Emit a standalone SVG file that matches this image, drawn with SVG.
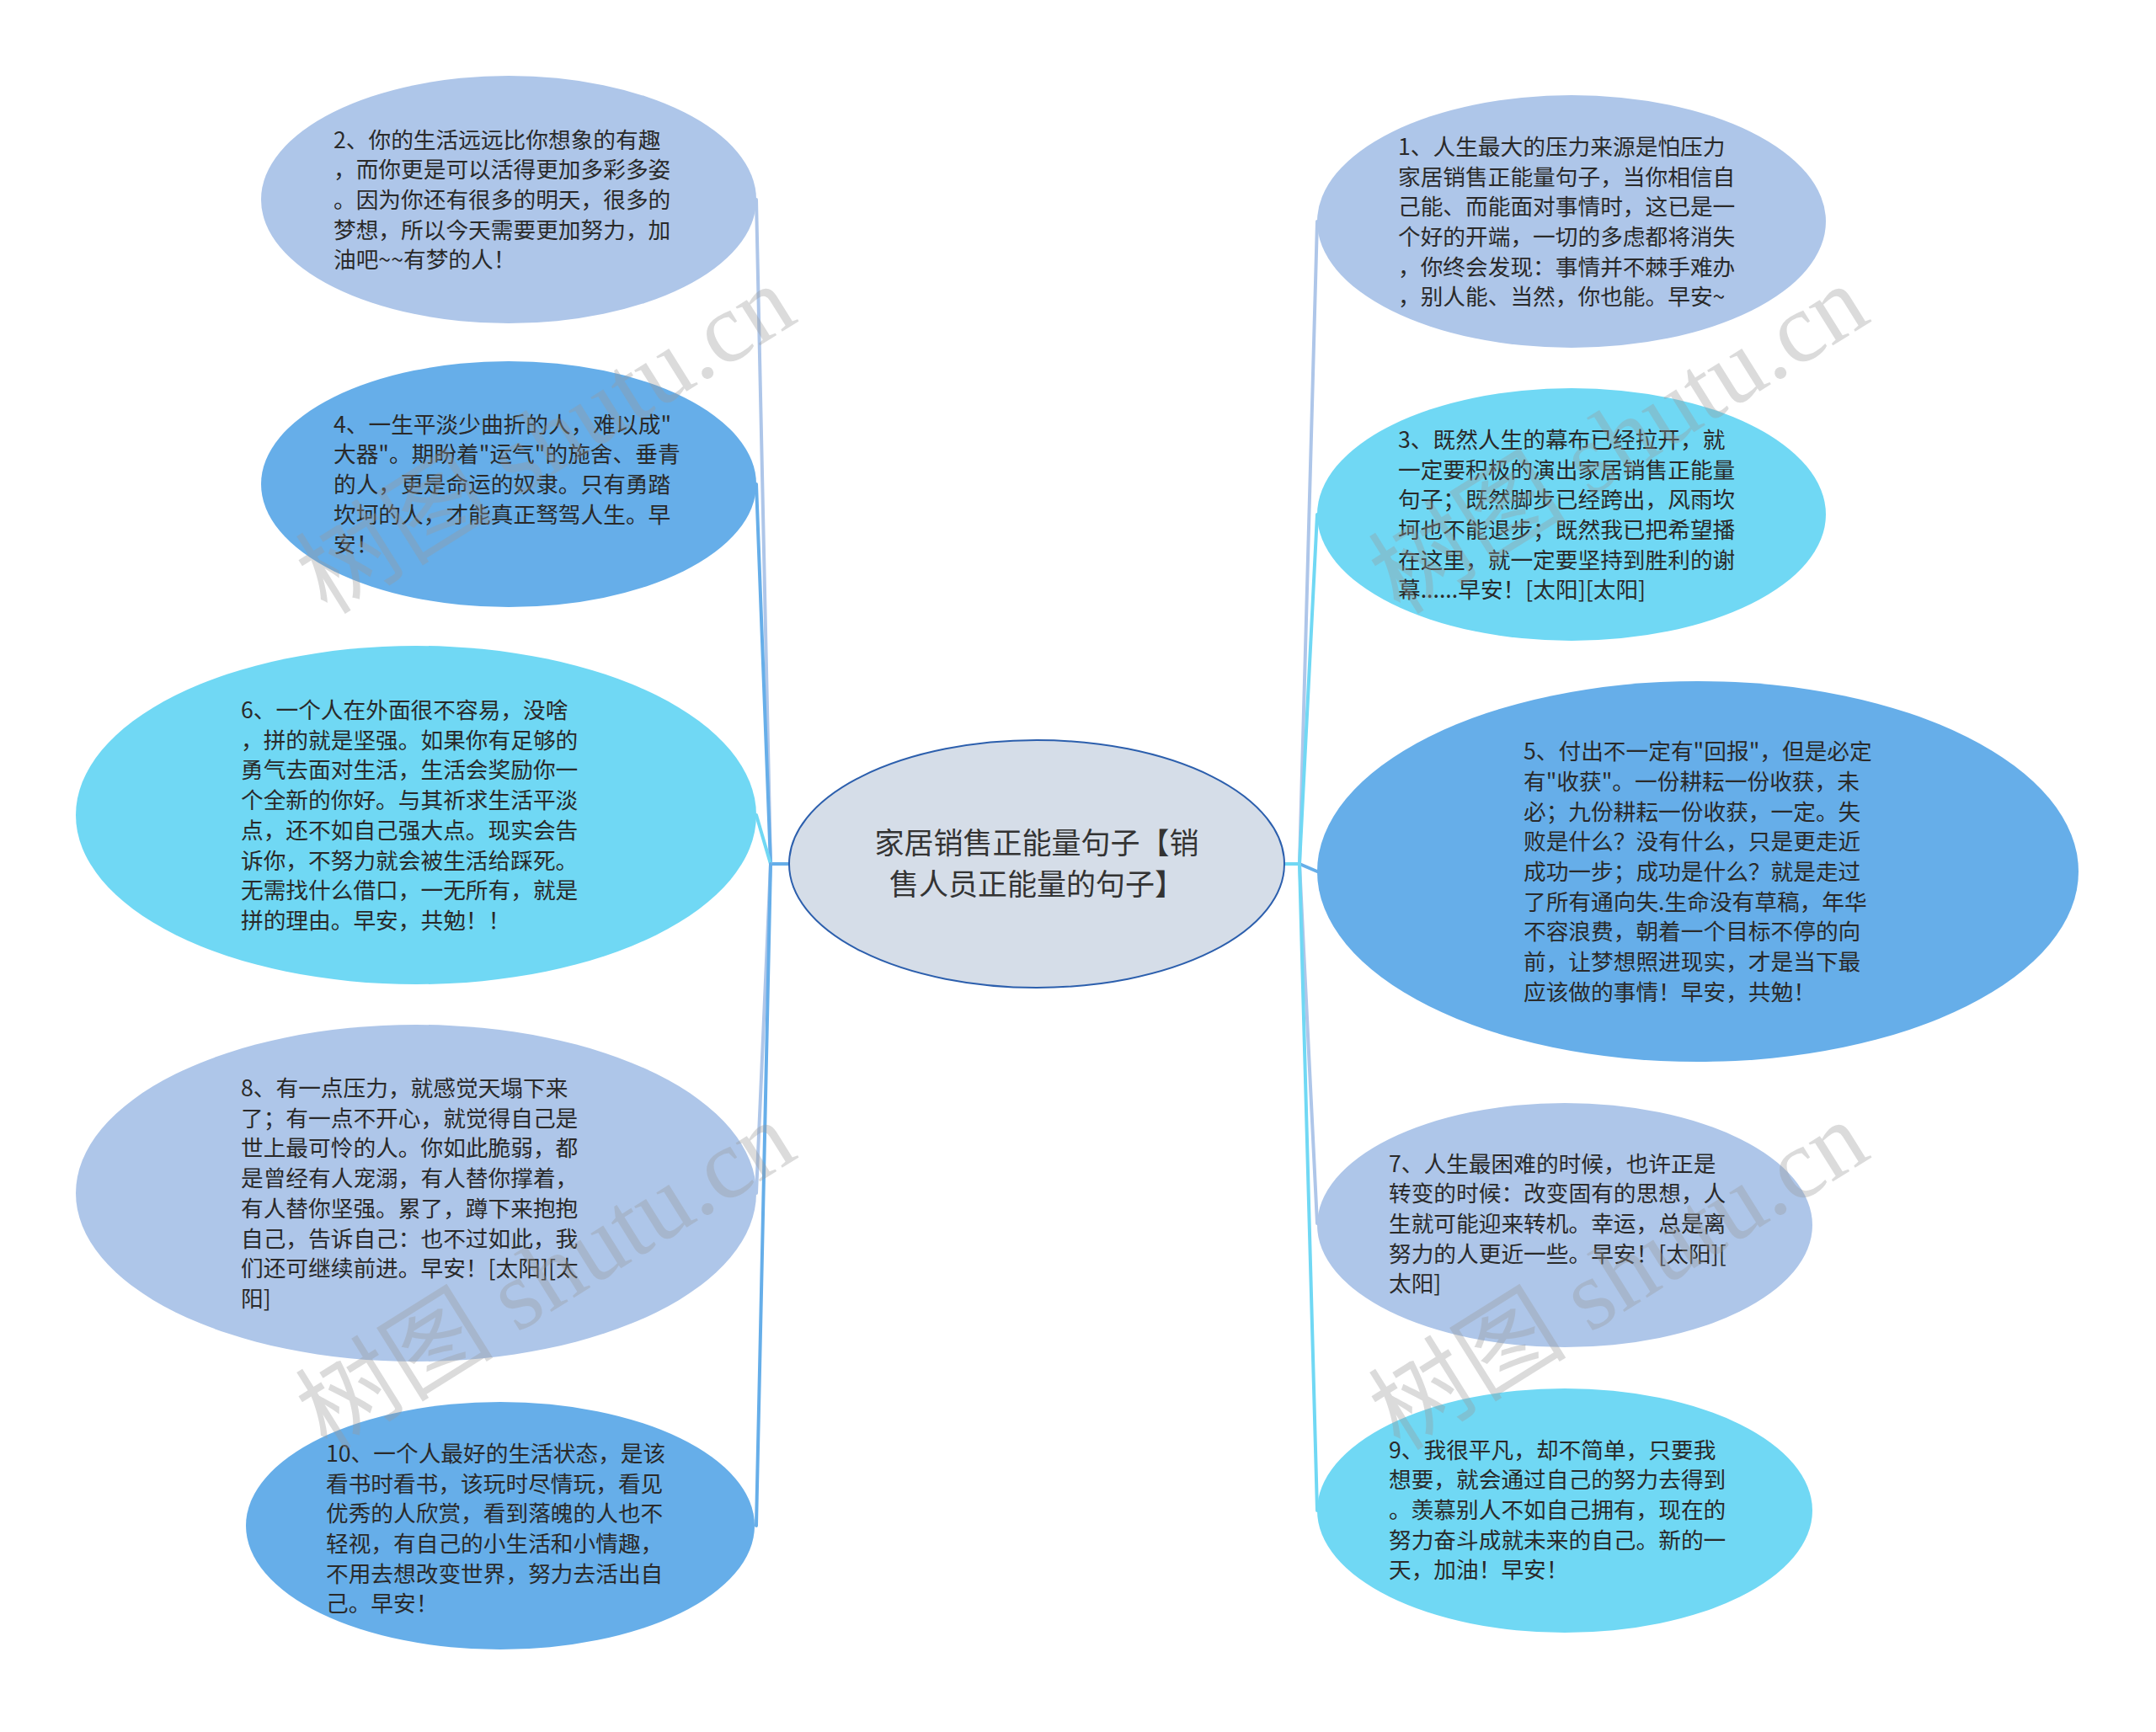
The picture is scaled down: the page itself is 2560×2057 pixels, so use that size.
<svg xmlns="http://www.w3.org/2000/svg" width="2560" height="2057" viewBox="0 0 2560 2057">
<style>
.bg{fill:#ffffff}
.c1{fill:#aec6e9}
.c2{fill:#66aee9}
.c3{fill:#70d8f4}
.l1{stroke:#aec6e9}
.l2{stroke:#66aee9}
.l3{stroke:#70d8f4}
.conn line{stroke-width:4;stroke-linecap:round;fill:none}
.t{font-family:"Noto Sans CJK SC","Noto Sans",sans-serif;font-size:26.7px;fill:#2a2a2a}
.tc{font-family:"Noto Sans CJK SC","Noto Sans",sans-serif;font-size:35px;fill:#333333;text-anchor:middle}
.wm{font-family:"Liberation Serif","Noto Sans CJK SC",serif;font-size:118px;fill:#9a9a9a;opacity:0.35}
</style>
<rect class="bg" x="0" y="0" width="2560" height="2057"/>
<g id="connectors" class="conn">
  <line class="l2" x1="937" y1="1026" x2="915" y2="1026"/>
  <line class="l1" x1="915" y1="1026" x2="898" y2="237"/>
  <line class="l2" x1="915" y1="1026" x2="898" y2="575"/>
  <line class="l3" x1="915" y1="1026" x2="898" y2="968"/>
  <line class="l1" x1="915" y1="1026" x2="898" y2="1417"/>
  <line class="l2" x1="915" y1="1026" x2="898" y2="1812"/>
  <line class="l3" x1="1525" y1="1026" x2="1543" y2="1026"/>
  <line class="l1" x1="1543" y1="1026" x2="1564" y2="263"/>
  <line class="l3" x1="1543" y1="1026" x2="1564" y2="611"/>
  <line class="l2" x1="1543" y1="1026" x2="1564" y2="1035"/>
  <line class="l1" x1="1543" y1="1026" x2="1564" y2="1453"/>
  <line class="l3" x1="1543" y1="1026" x2="1564" y2="1794"/>
</g>
<g id="center">
  <ellipse cx="1231" cy="1026" rx="294" ry="147" fill="#d5dde8" stroke="#2c5fad" stroke-width="2"/>
  <text class="tc"><tspan x="1231" y="1014">家居销售正能量句子【销</tspan><tspan x="1231" y="1063">售人员正能量的句子】</tspan></text>
</g>
<g id="n2">
  <ellipse class="c1" cx="604" cy="237" rx="294" ry="147"/>
  <text class="t" x="396" y="175.6"><tspan x="396">2、你的生活远远比你想象的有趣</tspan><tspan x="396" dy="35.7">，而你更是可以活得更加多彩多姿</tspan><tspan x="396" dy="35.7">。因为你还有很多的明天，很多的</tspan><tspan x="396" dy="35.7">梦想，所以今天需要更加努力，加</tspan><tspan x="396" dy="35.7">油吧~~有梦的人！</tspan></text>
</g>
<g id="n4">
  <ellipse class="c2" cx="604" cy="575" rx="294" ry="146"/>
  <text class="t" x="396" y="513.6"><tspan x="396">4、一生平淡少曲折的人，难以成"</tspan><tspan x="396" dy="35.7">大器"。期盼着"运气"的施舍、垂青</tspan><tspan x="396" dy="35.7">的人，更是命运的奴隶。只有勇踏</tspan><tspan x="396" dy="35.7">坎坷的人，才能真正驽驾人生。早</tspan><tspan x="396" dy="35.7">安！</tspan></text>
</g>
<g id="n6">
  <ellipse class="c3" cx="494" cy="968" rx="404" ry="201"/>
  <text class="t" x="286" y="853"><tspan x="286">6、一个人在外面很不容易，没啥</tspan><tspan x="286" dy="35.7">，拼的就是坚强。如果你有足够的</tspan><tspan x="286" dy="35.7">勇气去面对生活，生活会奖励你一</tspan><tspan x="286" dy="35.7">个全新的你好。与其祈求生活平淡</tspan><tspan x="286" dy="35.7">点，还不如自己强大点。现实会告</tspan><tspan x="286" dy="35.7">诉你，不努力就会被生活给踩死。</tspan><tspan x="286" dy="35.7">无需找什么借口，一无所有，就是</tspan><tspan x="286" dy="35.7">拼的理由。早安，共勉！！</tspan></text>
</g>
<g id="n8">
  <ellipse class="c1" cx="494" cy="1417" rx="404" ry="200"/>
  <text class="t" x="286" y="1302"><tspan x="286">8、有一点压力，就感觉天塌下来</tspan><tspan x="286" dy="35.7">了；有一点不开心，就觉得自己是</tspan><tspan x="286" dy="35.7">世上最可怜的人。你如此脆弱，都</tspan><tspan x="286" dy="35.7">是曾经有人宠溺，有人替你撑着，</tspan><tspan x="286" dy="35.7">有人替你坚强。累了，蹲下来抱抱</tspan><tspan x="286" dy="35.7">自己，告诉自己：也不过如此，我</tspan><tspan x="286" dy="35.7">们还可继续前进。早安！[太阳][太</tspan><tspan x="286" dy="35.7">阳]</tspan></text>
</g>
<g id="n10">
  <ellipse class="c2" cx="594" cy="1812" rx="302" ry="147"/>
  <text class="t" x="387" y="1735.8"><tspan x="387">10、一个人最好的生活状态，是该</tspan><tspan x="387" dy="35.7">看书时看书，该玩时尽情玩，看见</tspan><tspan x="387" dy="35.7">优秀的人欣赏，看到落魄的人也不</tspan><tspan x="387" dy="35.7">轻视，有自己的小生活和小情趣，</tspan><tspan x="387" dy="35.7">不用去想改变世界，努力去活出自</tspan><tspan x="387" dy="35.7">己。早安！</tspan></text>
</g>
<g id="n1">
  <ellipse class="c1" cx="1866" cy="263" rx="302" ry="150"/>
  <text class="t" x="1660" y="183.8"><tspan x="1660">1、人生最大的压力来源是怕压力</tspan><tspan x="1660" dy="35.7">家居销售正能量句子，当你相信自</tspan><tspan x="1660" dy="35.7">己能、而能面对事情时，这已是一</tspan><tspan x="1660" dy="35.7">个好的开端，一切的多虑都将消失</tspan><tspan x="1660" dy="35.7">，你终会发现：事情并不棘手难办</tspan><tspan x="1660" dy="35.7">，别人能、当然，你也能。早安~</tspan></text>
</g>
<g id="n3">
  <ellipse class="c3" cx="1866" cy="611" rx="302" ry="150"/>
  <text class="t" x="1660" y="531.8"><tspan x="1660">3、既然人生的幕布已经拉开，就</tspan><tspan x="1660" dy="35.7">一定要积极的演出家居销售正能量</tspan><tspan x="1660" dy="35.7">句子；既然脚步已经跨出，风雨坎</tspan><tspan x="1660" dy="35.7">坷也不能退步；既然我已把希望播</tspan><tspan x="1660" dy="35.7">在这里，就一定要坚持到胜利的谢</tspan><tspan x="1660" dy="35.7">幕......早安！[太阳][太阳]</tspan></text>
</g>
<g id="n5">
  <ellipse class="c2" cx="2016" cy="1035" rx="452" ry="226"/>
  <text class="t" x="1809" y="902.2"><tspan x="1809">5、付出不一定有"回报"，但是必定</tspan><tspan x="1809" dy="35.7">有"收获"。一份耕耘一份收获，未</tspan><tspan x="1809" dy="35.7">必；九份耕耘一份收获，一定。失</tspan><tspan x="1809" dy="35.7">败是什么？没有什么，只是更走近</tspan><tspan x="1809" dy="35.7">成功一步；成功是什么？就是走过</tspan><tspan x="1809" dy="35.7">了所有通向失.生命没有草稿，年华</tspan><tspan x="1809" dy="35.7">不容浪费，朝着一个目标不停的向</tspan><tspan x="1809" dy="35.7">前，让梦想照进现实，才是当下最</tspan><tspan x="1809" dy="35.7">应该做的事情！早安，共勉！</tspan></text>
</g>
<g id="n7">
  <ellipse class="c1" cx="1858" cy="1455" rx="294" ry="145"/>
  <text class="t" x="1649" y="1391.6"><tspan x="1649">7、人生最困难的时候，也许正是</tspan><tspan x="1649" dy="35.7">转变的时候：改变固有的思想，人</tspan><tspan x="1649" dy="35.7">生就可能迎来转机。幸运，总是离</tspan><tspan x="1649" dy="35.7">努力的人更近一些。早安！[太阳][</tspan><tspan x="1649" dy="35.7">太阳]</tspan></text>
</g>
<g id="n9">
  <ellipse class="c3" cx="1858" cy="1794" rx="294" ry="145"/>
  <text class="t" x="1649" y="1731.6"><tspan x="1649">9、我很平凡，却不简单，只要我</tspan><tspan x="1649" dy="35.7">想要，就会通过自己的努力去得到</tspan><tspan x="1649" dy="35.7">。羡慕别人不如自己拥有，现在的</tspan><tspan x="1649" dy="35.7">努力奋斗成就未来的自己。新的一</tspan><tspan x="1649" dy="35.7">天，加油！早安！</tspan></text>
</g>
<g id="watermarks">
  <text class="wm" text-anchor="middle" transform="translate(648,522) rotate(-32)" y="40">树图 shutu.cn</text>
  <text class="wm" text-anchor="middle" transform="translate(1922,522) rotate(-32)" y="40">树图 shutu.cn</text>
  <text class="wm" text-anchor="middle" transform="translate(648,1515) rotate(-32)" y="40">树图 shutu.cn</text>
  <text class="wm" text-anchor="middle" transform="translate(1922,1515) rotate(-32)" y="40">树图 shutu.cn</text>
</g>
</svg>
